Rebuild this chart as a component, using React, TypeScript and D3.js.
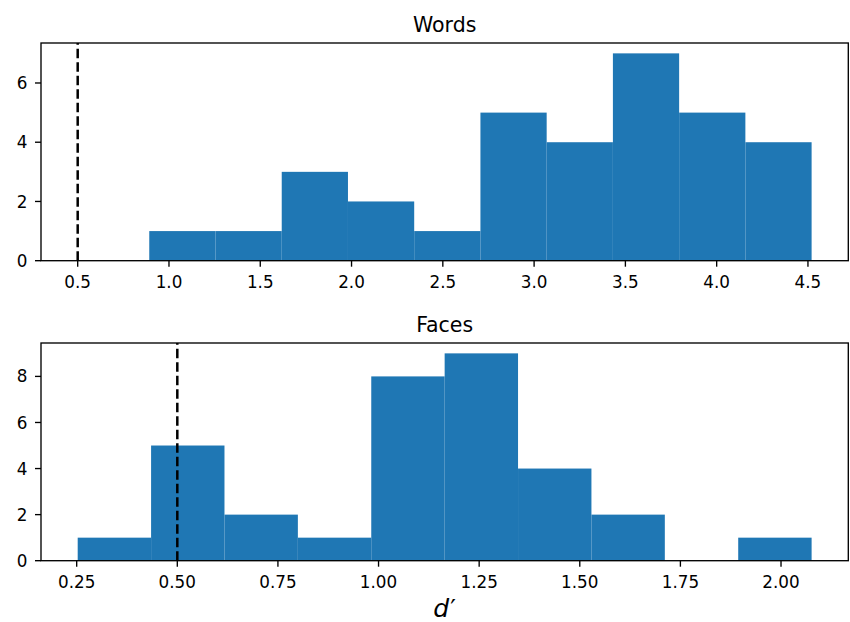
import React from "react";
import * as d3 from "d3";

// Words histogram
const wordsCounts = [1, 1, 3, 2, 1, 5, 4, 7, 5, 4];
const wordsRange = [0.892, 4.52];
const wordsXTicks = [0.5, 1.0, 1.5, 2.0, 2.5, 3.0, 3.5, 4.0, 4.5];
const wordsYTicks = [0, 2, 4, 6];

// Faces histogram
const facesCounts = [1, 5, 2, 1, 8, 9, 4, 2, 0, 1];
const facesRange = [0.2525, 2.076];
const facesXTicks = [0.25, 0.5, 0.75, 1.0, 1.25, 1.5, 1.75, 2.0];
const facesYTicks = [0, 2, 4, 6, 8];

const threshold = 0.5;

const FONT = "DejaVu Sans, sans-serif";
const BLUE = "#1f77b4";

type PanelProps = {
  title: string;
  counts: number[];
  range: number[];
  xTicks: number[];
  yTicks: number[];
  xDecimals: number;
  top: number;
  bottom: number;
  left: number;
  right: number;
};

function Panel({ title, counts, range, xTicks, yTicks, xDecimals, top, bottom, left, right }: PanelProps) {
  const lo = Math.min(range[0], threshold);
  const hi = Math.max(range[1], threshold);
  const pad = (hi - lo) * 0.05;
  const x = d3.scaleLinear().domain([lo - pad, hi + pad]).range([left, right]);
  const ymax = d3.max(counts)! * 1.05;
  const y = d3.scaleLinear().domain([0, ymax]).range([bottom, top]);
  const n = counts.length;
  const w = (range[1] - range[0]) / n;
  const edges = d3.range(n + 1).map((i) => range[0] + i * w);
  const fmt = d3.format(`.${xDecimals}f`);
  const tickLen = 6;
  return (
    <g>
      {counts.map((c, i) =>
        c > 0 ? (
          <rect
            key={i}
            x={x(edges[i])}
            y={y(c)}
            width={x(edges[i + 1]) - x(edges[i])}
            height={y(0) - y(c)}
            fill={BLUE}
          />
        ) : null
      )}
      <line
        x1={x(threshold)}
        x2={x(threshold)}
        y1={bottom}
        y2={top}
        stroke="#000"
        strokeWidth={2.5}
        strokeDasharray="9.4,4.1"
      />
      <rect x={left} y={top} width={right - left} height={bottom - top} fill="none" stroke="#000" strokeWidth={1.35} />
      {xTicks.map((t) => (
        <g key={"x" + t}>
          <line x1={x(t)} x2={x(t)} y1={bottom} y2={bottom + tickLen} stroke="#000" strokeWidth={1.35} />
          <text x={x(t)} y={bottom + 27.5} textAnchor="middle" fontFamily={FONT} fontSize={16.8} fill="#000">
            {fmt(t)}
          </text>
        </g>
      ))}
      {yTicks.map((t) => (
        <g key={"y" + t}>
          <line x1={left - tickLen} x2={left} y1={y(t)} y2={y(t)} stroke="#000" strokeWidth={1.35} />
          <text x={left - 13.5} y={y(t)} dy="0.36em" textAnchor="end" fontFamily={FONT} fontSize={16.8} fill="#000">
            {t}
          </text>
        </g>
      ))}
      <text x={(left + right) / 2} y={top - 11} textAnchor="middle" fontFamily={FONT} fontSize={20.5} fill="#000">
        {title}
      </text>
    </g>
  );
}

export default function App() {
  const left = 41;
  const right = 848.3;
  return (
    <svg
      width={850}
      height={622}
      style={{ position: "absolute", left: 0, top: 0, background: "#fff" }}
    >
      <rect width={850} height={622} fill="#fff" />
      <Panel
        title="Words"
        counts={wordsCounts}
        range={wordsRange}
        xTicks={wordsXTicks}
        yTicks={wordsYTicks}
        xDecimals={1}
        top={43}
        bottom={260.7}
        left={left}
        right={right}
      />
      <Panel
        title="Faces"
        counts={facesCounts}
        range={facesRange}
        xTicks={facesXTicks}
        yTicks={facesYTicks}
        xDecimals={2}
        top={343}
        bottom={560.7}
        left={left}
        right={right}
      />
      <text x={(left + right) / 2} y={617} textAnchor="middle" fontFamily={FONT} fontSize={25} fill="#000">
        <tspan fontStyle="italic">d</tspan>
        <tspan dx={1}>′</tspan>
      </text>
    </svg>
  );
}
